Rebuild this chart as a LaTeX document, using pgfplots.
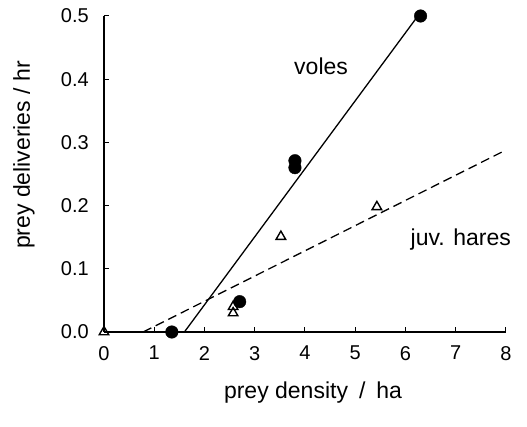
\documentclass[border=0pt]{standalone}
\usepackage{fontspec}
\setmainfont{Liberation Sans}
\usepackage{pgfplots}
\pgfplotsset{compat=1.18}
\begin{document}
\begin{tikzpicture}
\useasboundingbox (-104pt,-95pt) rectangle (423pt,332pt);
\begin{axis}[
  scale only axis, width=402pt, height=316pt,
  xmin=0, xmax=8, ymin=0, ymax=0.5,
  axis x line=bottom, axis y line=left,
  axis line style={-, line width=1.2pt},
  major tick style={line width=1pt, black},
  major tick length=5pt,
  tick align=inside,
  xtick={0,1,...,8}, ytick={0,0.1,...,0.5},
  /pgf/number format/assume math mode=true,
  yticklabel style={/pgf/number format/fixed, /pgf/number format/precision=1, /pgf/number format/fixed zerofill, inner sep=0pt, anchor=east, xshift=-15pt, font=\fontsize{20}{24}\selectfont},
  xticklabel style={inner sep=0pt, anchor=north, yshift=-14pt, font=\fontsize{20}{24}\selectfont},
  xlabel={prey density\hspace{11pt}/\hspace{11pt}ha},
  ylabel={prey deliveries / hr},
  xlabel style={font=\fontsize{23}{27}\selectfont, at={(axis description cs:0.52,-0.193)}, anchor=center, inner sep=0pt},
  ylabel style={font=\fontsize{23}{27}\selectfont, at={(axis description cs:-0.199,0.56)}, anchor=center, inner sep=0pt},
  clip=false,
]
\addplot[black, line width=1.3pt] coordinates {(1.6,0) (6.2,0.495)};
\addplot[black, line width=1.3pt, dash pattern=on 9pt off 5pt] coordinates {(0.78,0) (8,0.288)};
\addplot[only marks, mark=*, mark size=6.3pt, black] coordinates {
(1.35,0) (2.7,0.048) (3.8,0.271) (3.8,0.260) (6.3,0.5)};
\addplot[only marks, mark=triangle, mark size=5.5pt, black, line width=1.4pt, mark options={fill=white}] coordinates {
(0,0) (2.57,0.040) (2.57,0.030) (3.52,0.151) (5.43,0.198)};
\node[font=\fontsize{23}{27}\selectfont, inner sep=0pt] at (axis cs:4.32,0.421) {voles};
\node[font=\fontsize{23}{27}\selectfont, inner sep=0pt] at (axis cs:7.1,0.146) {juv. hares};
\end{axis}
\end{tikzpicture}
\end{document}
